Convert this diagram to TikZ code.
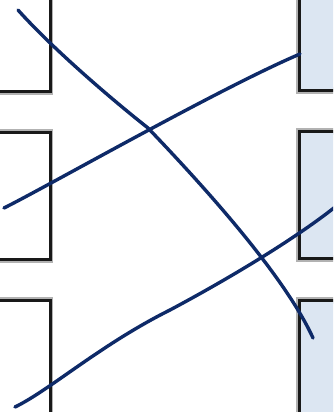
\documentclass[tikz,border=0pt]{standalone}
\usepackage{xcolor}
\usepackage{tikz}
\definecolor{CurveNavy}{HTML}{0E2A68}
\definecolor{BoxBlue}{HTML}{DCE6F2}

\begin{document}
\begin{tikzpicture}[
  x=1pt, y=-1pt,
  box/.style={draw=black!90, line width=3pt, fill=white, minimum width=150pt, minimum height=127pt,
    preaction={draw=black!30, line width=6.5pt}},
  lbox/.style={box, fill=white},
  rbox/.style={box, fill=BoxBlue},
  curve/.style={draw=CurveNavy, line width=3.4pt, line cap=round}
]
  \useasboundingbox (0,0) rectangle (333,412);
  \clip (0,0) rectangle (333,412);

  % left column
  \node[lbox] (lbox1) at (-25,28) {};
  \node[lbox] (lbox2) at (-25,196) {};
  \node[lbox] (lbox3) at (-25,364) {};

  % right column
  \node[rbox] (rbox1) at (374,27) {};
  \node[rbox] (rbox2) at (374,195) {};
  \node[rbox] (rbox3) at (374,364) {};

  % curve end points
  \coordinate (a1) at (18,10);
  \coordinate (m1) at (148,128);
  \coordinate (b1) at (313,338);
  \coordinate (a2) at (4,208);
  \coordinate (b2) at (300,54);
  \coordinate (a3) at (15,407);
  \coordinate (m3) at (170,310);
  \coordinate (b3) at (340,203);

  \draw[curve] (a1) .. controls (52,48) and (110,98) .. (m1)
    .. controls (190,172) and (282,270) .. (b1);
  \draw[curve] (a2) .. controls (50,185) and (220,88) .. (b2);
  \draw[curve] (a3) .. controls (50,390) and (100,345) .. (m3)
    .. controls (230,278) and (300,236) .. (b3);
\end{tikzpicture}
\end{document}
